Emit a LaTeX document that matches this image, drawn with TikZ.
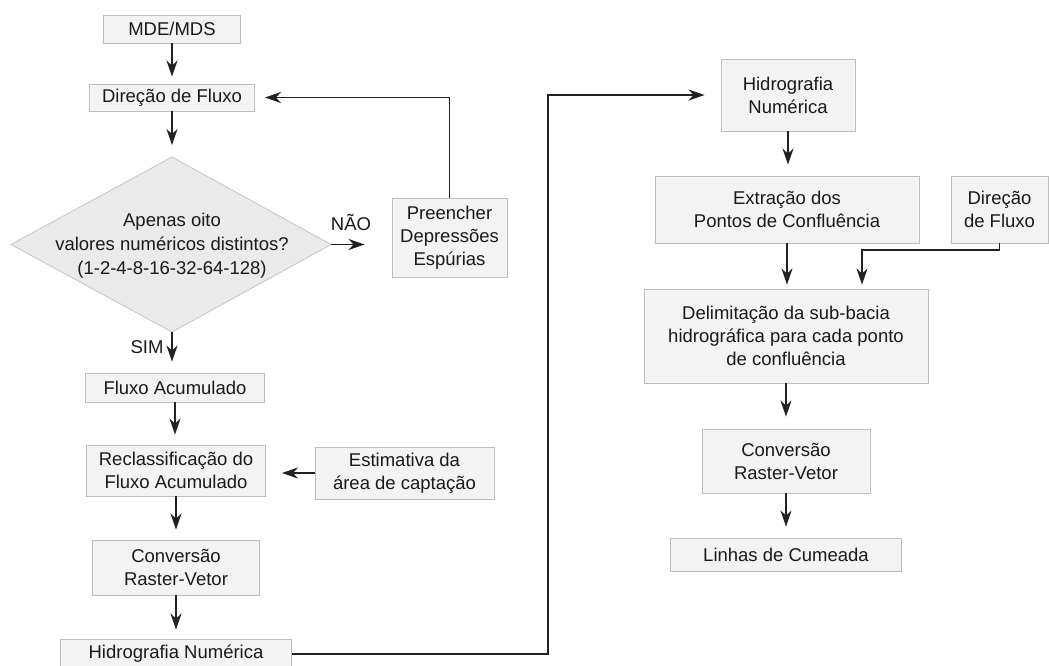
\documentclass[tikz,border=0pt]{standalone}
\usepackage{fontspec}
\setmainfont{Liberation Sans}
\usetikzlibrary{arrows.meta,calc}
\definecolor{boxfill}{HTML}{F3F3F3}
\definecolor{boxline}{HTML}{BDBDBD}
\definecolor{dfill}{HTML}{EAEAEA}
\definecolor{dline}{HTML}{C8C8C8}
\definecolor{ink}{HTML}{222222}
\definecolor{txt}{HTML}{1A1A1A}
\begin{document}
\begin{tikzpicture}[x=1pt,y=-1pt,
  box/.style={draw=boxline, fill=boxfill, line width=0.9pt, inner sep=0pt, align=center, text=txt, font=\fontsize{18.5}{23}\selectfont},
  arr/.style={draw=ink, line width=1.4pt, -{Stealth[length=16pt,width=11pt,inset=5pt]}},
  lbl/.style={text=txt, font=\fontsize{18.5}{23}\selectfont, inner sep=0pt, align=center}]
\useasboundingbox[fill=white] (0,0) rectangle (1049,665);

% left column
\node[box, minimum width=137pt, minimum height=28pt] (mde) at (172,29) {MDE/MDS};
\node[box, minimum width=165pt, minimum height=27pt] (dir) at (172,97.5) {Direção de Fluxo};
\coordinate (dtop) at (172,157);
\coordinate (dbot) at (172,332);
\coordinate (dleft) at (11,244.5);
\coordinate (dright) at (331,244.5);
\draw[fill=dfill, draw=dline, line width=0.9pt] (dtop) -- (dright) -- (dbot) -- (dleft) -- cycle;
\node[lbl, font=\fontsize{18.5}{24}\selectfont] (q) at (172,246) {Apenas oito\\valores numéricos distintos?\\(1-2-4-8-16-32-64-128)};
\node[box, minimum width=115pt, minimum height=79pt] (pre) at (449.5,237.5) {Preencher\\Depressões\\Espúrias};
\node[lbl] (nao) at (351,222) {NÃO};
\node[lbl] (sim) at (147,347) {SIM};
\node[box, minimum width=179pt, minimum height=29pt] (flux) at (175,387.5) {Fluxo Acumulado};
\node[box, minimum width=179pt, minimum height=51pt] (rec) at (176,470.5) {Reclassificação do\\Fluxo Acumulado};
\node[box, minimum width=179pt, minimum height=52pt] (est) at (404.5,473) {Estimativa da\\área de captação};
\node[box, minimum width=167pt, minimum height=55pt] (conv) at (176,567.5) {Conversão\\Raster-Vetor};
\node[box, minimum width=231pt, minimum height=30pt] (hid) at (176,654) {Hidrografia Numérica};

% right column
\node[box, minimum width=134pt, minimum height=72pt] (rhid) at (788,95) {Hidrografia\\Numérica};
\node[box, minimum width=264pt, minimum height=67pt] (ext) at (787,209.5) {Extração dos\\Pontos de Confluência};
\node[box, minimum width=97pt, minimum height=67pt] (rdir) at (999.5,209.5) {Direção\\de Fluxo};
\node[box, minimum width=284pt, minimum height=94pt] (del) at (786,336) {Delimitação da sub-bacia\\hidrográfica para cada ponto\\de confluência};
\node[box, minimum width=168pt, minimum height=64pt] (rconv) at (786,461) {Conversão\\Raster-Vetor};
\node[box, minimum width=231pt, minimum height=33pt] (lin) at (786,554.5) {Linhas de Cumeada};

% connectors left
\draw[arr, shorten >=7pt] (mde) -- (dir);
\draw[arr, shorten >=12pt] (dir) -- (dtop);
\draw[arr, shorten >=27pt] (dright) -- (dright -| pre.west);
\draw[arr, shorten >=10pt] (pre.north) |- (dir.east);
\draw[arr, shorten >=11pt] (dbot) -- (dbot |- flux.north);
\draw[arr, shorten >=10pt] (flux) -- (flux |- rec.north);
\draw[arr, shorten >=16pt] (est.west) -- (est.west -| rec.east);
\draw[arr, shorten >=10pt] (rec) -- (rec |- conv.north);
\draw[arr, shorten >=9pt] (conv) -- (conv |- hid.north);
\coordinate (c1) at (548,95);
\draw[arr, shorten >=16pt] (hid.east) -| (c1) -- (rhid.west);

% connectors right
\draw[arr, shorten >=11pt] (rhid) -- (rhid |- ext.north);
\draw[arr, shorten >=4pt] (ext) -- (ext |- del.north);
\coordinate (j1) at (862,250);
\draw[arr, shorten >=4pt] (rdir.south) |- (j1) -- (j1 |- del.north);
\draw[arr, shorten >=12pt] (del) -- (del |- rconv.north);
\draw[arr, shorten >=11pt] (rconv) -- (rconv |- lin.north);
\end{tikzpicture}
\end{document}
